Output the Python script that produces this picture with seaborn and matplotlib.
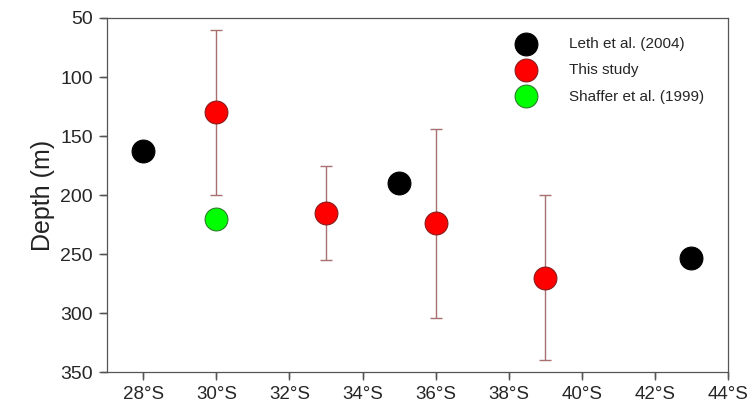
import pandas as pd
import seaborn as sns
import matplotlib.pyplot as plt

sns.set_theme(style="ticks")
plt.rcParams['font.family'] = ['Liberation Sans', 'DejaVu Sans']

# data
leth_lat = [28, 35, 43]
leth_depth = [163, 190, 253]

study_lat = [30, 33, 36, 39]
study_depth = [130, 215, 224, 270]
study_low = [60, 175, 144, 200]
study_high = [200, 255, 304, 340]

shaffer_lat = [30]
shaffer_depth = [220]

lat_ticks = [28, 30, 32, 34, 36, 38, 40, 42, 44]
depth_ticks = [50, 100, 150, 200, 250, 300, 350]

df = pd.concat([
    pd.DataFrame({"lat": leth_lat, "depth": leth_depth, "source": "Leth et al. (2004)"}),
    pd.DataFrame({"lat": study_lat, "depth": study_depth, "source": "This study"}),
    pd.DataFrame({"lat": shaffer_lat, "depth": shaffer_depth, "source": "Shaffer et al. (1999)"}),
])

palette = {"Leth et al. (2004)": "#000000", "This study": "#ff0000", "Shaffer et al. (1999)": "#00ff00"}
edges = {"Leth et al. (2004)": "#000000", "This study": "#8b1a1a", "Shaffer et al. (1999)": "#2e7d2e"}

fig = plt.figure(figsize=(7.52, 4.09), dpi=100)
ax = fig.add_axes([0.142, 0.090, 0.826, 0.866])

# error bars for this study
yerr = [[d - lo for d, lo in zip(study_depth, study_low)],
        [hi - d for d, hi in zip(study_depth, study_high)]]
ax.errorbar(study_lat, study_depth, yerr=yerr, fmt="none", ecolor="#a87070",
            elinewidth=1.0, capsize=4, capthick=1.0, zorder=1)

for src, sub in df.groupby("source", sort=False):
    sns.scatterplot(data=sub, x="lat", y="depth", color=palette[src], s=270,
                    edgecolor=edges[src], linewidth=0.8, label=src, ax=ax, zorder=3)

ax.set_xlim(27, 44)
ax.set_ylim(350, 50)
ax.set_xticks(lat_ticks)
ax.set_xticklabels([f"{t}°S" for t in lat_ticks])
ax.set_yticks(depth_ticks)
ax.tick_params(axis="both", which="major", length=6, width=1.0, color="#555555",
               direction="out", bottom=True, left=True, top=False, right=False, pad=4)
ax.tick_params(axis="x", labelsize=13.5)
ax.tick_params(axis="y", labelsize=14)

# tick marks drawn again as short lines outside the axes, in case the native ones don't show
ax.vlines(lat_ticks, 0, -0.017, transform=ax.get_xaxis_transform(), colors="#555555",
          linewidth=1.0, clip_on=False)
ax.hlines(depth_ticks, 0, -0.0097, transform=ax.get_yaxis_transform(), colors="#555555",
          linewidth=1.0, clip_on=False)

ax.set_xlabel("")
ax.set_ylabel("Depth (m)", fontsize=18, color="#222222")
for sp in ax.spines.values():
    sp.set_visible(True)
    sp.set_color("#555555")
    sp.set_linewidth(0.9)

ax.legend(loc="upper right", frameon=False, fontsize=11, markerscale=1.0,
          handletextpad=1.8, labelspacing=0.8, bbox_to_anchor=(0.984, 0.985))

fig.savefig("out.png", dpi=100)
